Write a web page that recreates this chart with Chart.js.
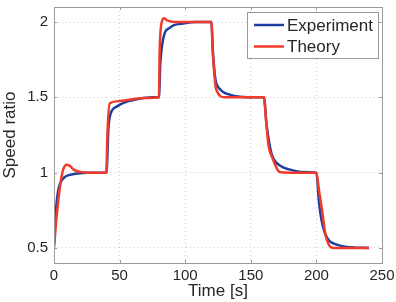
<!DOCTYPE html>
<html>
<head>
<meta charset="utf-8">
<script src="https://cdn.jsdelivr.net/npm/chart.js@4/dist/chart.umd.min.js"></script>
<style>
    body { margin: 0; background: #fff; }
    #wrap { width: 396px; height: 302px; }
</style>
</head>
<body>
<div id="wrap"><canvas id="speedChart" width="396" height="302"></canvas></div>
<script>
// Speed ratio step response - experiment vs theory

const expTime = [0, 1, 2, 3, 4, 6, 8, 12, 18, 25, 40, 41.5, 42.5, 44, 48, 55, 65, 75, 80,
    81, 82, 84.5, 88, 91, 98, 108, 120, 121, 123, 125, 127, 130, 134, 140, 148, 160,
    162, 164, 166, 169, 172.5, 176, 180, 188, 200, 202, 204, 206, 208, 210, 213, 216, 222, 230, 240];
const expRatio = [0.52, 0.70, 0.80, 0.87, 0.91, 0.95, 0.97, 0.985, 0.995, 1.0, 1.0, 1.30, 1.37, 1.41, 1.44, 1.47, 1.49, 1.5, 1.5,
    1.72, 1.82, 1.93, 1.96, 1.978, 1.99, 2.0, 2.0, 1.82, 1.62, 1.57, 1.55, 1.53, 1.518, 1.505, 1.5, 1.5,
    1.32, 1.2, 1.12, 1.07, 1.046, 1.03, 1.02, 1.005, 1.0, 0.8, 0.68, 0.61, 0.57, 0.545, 0.53, 0.52, 0.508, 0.502, 0.5];

const theoryTime = [0, 2, 4.6, 7, 9.7, 12, 15, 20, 25, 40, 40.5, 42.5, 50, 60, 70, 80,
    80.5, 82.5, 84, 86, 90, 95, 120, 121, 122, 123, 124.5, 126.5, 130, 160,
    161.8, 163.6, 166, 172.5, 180, 200, 202, 204.3, 206.9, 209, 210.7, 214, 240];
const theoryRatio = [0.5, 0.71, 0.91, 1.02, 1.053, 1.045, 1.02, 1.005, 1.0, 1.0, 1.2, 1.46, 1.475, 1.488, 1.495, 1.5,
    1.8, 2.01, 2.025, 2.012, 2.002, 2.0, 2.0, 1.8, 1.68, 1.58, 1.535, 1.51, 1.5, 1.5,
    1.33, 1.175, 1.108, 1.002, 1.0, 1.0, 0.88, 0.75, 0.59, 0.53, 0.507, 0.5, 0.5];

const xTicks = [0, 50, 100, 150, 200, 250];
const yTicks = [0.5, 1, 1.5, 2];

const FONT = "'Liberation Sans', Arial, Helvetica, sans-serif";
const TEXT_COLOR = '#262626';
const FRAME_COLOR = '#9a9a9a';

function toPoints(xs, ys) {
    return xs.map((x, i) => ({ x: x, y: ys[i] }));
}

// box around the plot + small inward tick marks (matlab style)
const framePlugin = {
    id: 'frame',
    afterDatasetsDraw(chart) {
        const { ctx, chartArea: a, scales } = chart;
        ctx.save();
        ctx.strokeStyle = FRAME_COLOR;
        ctx.lineWidth = 1;
        ctx.strokeRect(Math.round(a.left) + 0.5, Math.round(a.top) + 0.5,
            Math.round(a.right - a.left), Math.round(a.bottom - a.top));
        ctx.beginPath();
        xTicks.forEach(v => {
            const px = Math.round(scales.x.getPixelForValue(v)) + 0.5;
            ctx.moveTo(px, a.bottom); ctx.lineTo(px, a.bottom - 3);
            ctx.moveTo(px, a.top); ctx.lineTo(px, a.top + 3);
        });
        yTicks.forEach(v => {
            const py = Math.round(scales.y.getPixelForValue(v)) + 0.5;
            ctx.moveTo(a.left, py); ctx.lineTo(a.left + 3, py);
            ctx.moveTo(a.right, py); ctx.lineTo(a.right - 3, py);
        });
        ctx.stroke();
        ctx.restore();
    }
};

// legend box in the upper right corner of the plot
const boxLegendPlugin = {
    id: 'boxLegend',
    afterDraw(chart) {
        const { ctx, chartArea: a } = chart;
        const x0 = a.right - 135, y0 = a.top + 5, w = 131, h = 46;
        ctx.save();
        ctx.fillStyle = '#fff';
        ctx.fillRect(x0, y0, w, h);
        ctx.strokeStyle = FRAME_COLOR;
        ctx.lineWidth = 1;
        ctx.strokeRect(x0 + 0.5, y0 + 0.5, w, h);
        ctx.font = '17px ' + FONT;
        ctx.textBaseline = 'middle';
        ctx.fillStyle = TEXT_COLOR;
        chart.data.datasets.forEach((ds, i) => {
            const ly = y0 + 13 + i * 21.5;
            ctx.strokeStyle = ds.borderColor;
            ctx.lineWidth = 2.5;
            ctx.beginPath();
            ctx.moveTo(x0 + 7, ly);
            ctx.lineTo(x0 + 37, ly);
            ctx.stroke();
            ctx.fillText(ds.label, x0 + 40, ly + 1);
        });
        ctx.restore();
    }
};

// drop the automatic label overflow padding so the layout padding alone sets the plot box
function noLabelPadding(scale) {
    scale.paddingTop = 0;
    scale.paddingBottom = 0;
    scale.paddingLeft = 0;
    scale.paddingRight = 0;
}

const ctx = document.getElementById('speedChart').getContext('2d');

new Chart(ctx, {
    type: 'line',
    data: {
        datasets: [{
            label: 'Experiment',
            data: toPoints(expTime, expRatio),
            borderColor: '#1f3f9f',
            borderWidth: 2.5,
            pointRadius: 0,
            cubicInterpolationMode: 'monotone',
            order: 2
        }, {
            label: 'Theory',
            data: toPoints(theoryTime, theoryRatio),
            borderColor: '#f23a2a',
            borderWidth: 2.5,
            pointRadius: 0,
            cubicInterpolationMode: 'monotone',
            order: 1
        }]
    },
    options: {
        responsive: false,
        animation: false,
        devicePixelRatio: 1,
        layout: {
            padding: { top: 7, right: 14, left: 0, bottom: 0 }
        },
        plugins: {
            legend: { display: false },
            tooltip: { enabled: false }
        },
        scales: {
            x: {
                type: 'linear',
                min: 0,
                max: 250,
                afterBuildTicks: scale => { scale.ticks = xTicks.map(v => ({ value: v })); },
                afterFit: scale => { scale.height = 39; noLabelPadding(scale); },
                ticks: {
                    color: TEXT_COLOR,
                    font: { family: FONT, size: 15 },
                    padding: 4,
                    maxRotation: 0,
                    callback: v => String(v)
                },
                grid: {
                    color: '#cfcfcf',
                    drawTicks: false
                },
                border: { display: false, dash: [1, 3] },
                title: {
                    display: true,
                    text: 'Time [s]',
                    color: TEXT_COLOR,
                    font: { family: FONT, size: 17 },
                    padding: 0
                }
            },
            y: {
                min: 0.4,
                max: 2.1,
                afterBuildTicks: scale => { scale.ticks = yTicks.map(v => ({ value: v })); },
                afterFit: scale => { scale.width = 54; noLabelPadding(scale); },
                ticks: {
                    color: TEXT_COLOR,
                    font: { family: FONT, size: 15 },
                    padding: 6,
                    callback: v => String(v)
                },
                grid: {
                    color: '#cfcfcf',
                    drawTicks: false
                },
                border: { display: false, dash: [1, 3] },
                title: {
                    display: true,
                    text: 'Speed ratio',
                    color: TEXT_COLOR,
                    font: { family: FONT, size: 17 },
                    padding: 0
                }
            }
        }
    },
    plugins: [framePlugin, boxLegendPlugin]
});
</script>
</body>
</html>
